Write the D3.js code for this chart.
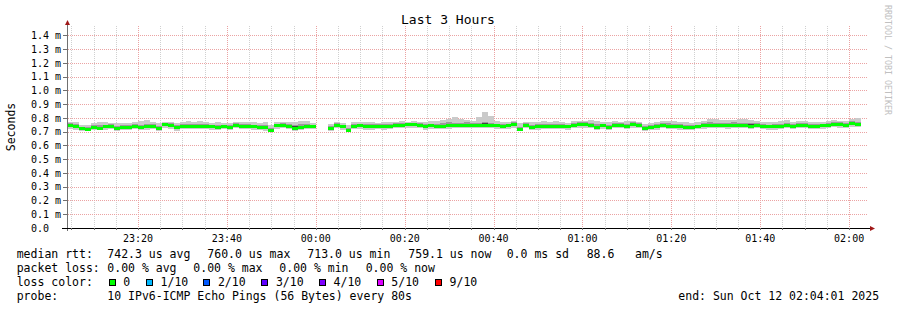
<!DOCTYPE html>
<html><head><meta charset="utf-8">
<script src="https://cdn.jsdelivr.net/npm/d3@7"></script>
<style>
html,body{margin:0;padding:0;background:#fff;}
svg{display:block;font-family:"DejaVu Sans Mono",monospace;}
</style></head><body>
<svg id="chart" width="897" height="310"></svg>
<script>
// ---------- data ----------
const title = "Last 3 Hours";
const yLabel = "Seconds";
const watermark = "RRDTOOL / TOBI OETIKER";
const startTime = "2025-10-11T23:04:01";
const endTime = "2025-10-12T02:04:01";
const stepSeconds = 80;
const yMaxMs = 1.468;
const yTicks = [0,0.1,0.2,0.3,0.4,0.5,0.6,0.7,0.8,0.9,1.0,1.1,1.2,1.3,1.4];

// median rtt per 80 s step (ms); null = no data
const median = [
.748,.743,.724,.717,.733,.729,.738,.740,.729,.736,
.736,.740,.731,.740,.743,.724,.755,.748,.731,.743,
.740,.740,.743,.740,.738,.736,.740,.733,.748,.743,
.740,.738,.733,.733,.714,.745,.748,.740,.729,.736,
.743,.740,null,null,.729,.750,.738,.713,.743,.745,
.738,.740,.740,.738,.743,.748,.748,.755,.755,.752,
.738,.745,.743,.743,.748,.750,.745,.750,.752,.752,
.752,.748,.745,.743,.745,.755,.721,.748,.736,.738,
.743,.743,.743,.743,.738,.750,.755,.755,.750,.736,
.748,.733,.748,.748,.743,.757,.750,.729,.733,.738,
.752,.743,.743,.743,.736,.733,.738,.745,.750,.748,
.748,.748,.748,.748,.750,.743,.748,.740,.738,.738,
.743,.752,.740,.750,.750,.740,.740,.745,.752,.757,
.755,.748,.760,.759];
// highest ping per step (ms)
const pingMax = [
.770,.768,.750,.745,.765,.768,.768,.765,.760,.765,
.762,.768,.778,.782,.772,.762,.772,.772,.765,.768,
.775,.770,.778,.768,.765,.768,.764,.762,.772,.772,
.768,.768,.762,.770,.745,.768,.770,.768,.768,.776,
.775,.765,null,null,.755,.768,.765,.748,.768,.768,
.772,.768,.765,.768,.770,.772,.776,.772,.776,.772,
.770,.776,.778,.785,.795,.805,.795,.786,.778,.805,
.842,.812,.778,.768,.772,.778,.760,.770,.768,.772,
.778,.770,.776,.768,.766,.778,.780,.780,.782,.778,
.768,.770,.776,.772,.778,.778,.772,.758,.765,.772,
.778,.776,.776,.768,.768,.762,.770,.780,.795,.790,
.786,.785,.786,.790,.790,.786,.778,.772,.768,.772,
.778,.786,.772,.778,.778,.770,.772,.772,.778,.782,
.780,.776,.795,.798];
// lowest ping per step (ms)
const pingMin = [
.718,.715,.704,.702,.710,.710,.715,.718,.708,.712,
.712,.718,.710,.715,.718,.705,.725,.722,.708,.720,
.718,.716,.720,.718,.715,.712,.716,.710,.725,.720,
.718,.714,.710,.708,.698,.720,.725,.718,.708,.712,
.720,.718,null,null,.708,.725,.715,.700,.718,.720,
.712,.715,.718,.712,.718,.725,.725,.730,.730,.728,
.715,.718,.718,.716,.720,.725,.725,.728,.728,.726,
.728,.725,.718,.716,.720,.730,.702,.725,.712,.715,
.720,.718,.718,.718,.715,.725,.730,.730,.725,.712,
.722,.710,.725,.725,.718,.730,.726,.708,.710,.714,
.728,.720,.716,.712,.710,.710,.716,.720,.725,.725,
.725,.722,.725,.724,.725,.720,.725,.716,.715,.714,
.718,.728,.716,.725,.726,.718,.716,.722,.728,.732,
.730,.725,.735,.732];
// upper inner ping per step (ms)
const pingHi = [
.760,.757,.737,.731,.747,.745,.751,.753,.743,.750,
.749,.753,.746,.757,.757,.739,.765,.761,.747,.755,
.755,.753,.757,.753,.751,.750,.752,.747,.760,.757,
.753,.751,.747,.750,.727,.757,.760,.755,.747,.753,
.757,.752,null,null,.741,.761,.751,.727,.755,.757,
.755,.755,.753,.753,.757,.760,.761,.765,.765,.763,
.753,.757,.757,.760,.770,.765,.763,.767,.763,.765,
.770,.763,.757,.755,.757,.767,.735,.760,.751,.753,
.757,.757,.757,.755,.751,.763,.767,.767,.765,.753,
.757,.749,.761,.761,.757,.769,.763,.741,.747,.753,
.765,.761,.759,.757,.751,.747,.751,.760,.767,.765,
.765,.763,.767,.765,.765,.763,.761,.755,.751,.753,
.757,.765,.755,.761,.761,.753,.755,.757,.765,.770,
.767,.761,.775,.773];
// lower inner ping per step (ms)
const pingLo = [
.733,.729,.713,.709,.721,.719,.726,.729,.717,.723,
.723,.728,.720,.728,.731,.714,.740,.735,.719,.731,
.728,.727,.731,.728,.726,.723,.727,.721,.735,.731,
.728,.725,.721,.721,.704,.733,.735,.728,.717,.723,
.730,.728,null,null,.717,.737,.725,.705,.730,.732,
.725,.727,.728,.725,.730,.735,.735,.741,.742,.739,
.725,.731,.730,.729,.733,.737,.733,.737,.739,.737,
.739,.735,.731,.729,.731,.741,.709,.735,.723,.725,
.730,.729,.729,.729,.725,.737,.741,.741,.737,.723,
.735,.721,.735,.735,.729,.743,.737,.717,.720,.725,
.739,.731,.729,.727,.722,.721,.725,.732,.737,.735,
.735,.733,.735,.734,.737,.730,.735,.727,.725,.725,
.730,.739,.727,.737,.737,.727,.727,.732,.739,.743,
.741,.735,.747,.745];

const rttLabel = "median rtt:";
const rttStats = ["742.3 us avg","760.0 us max","713.0 us min","759.1 us now","0.0 ms sd","88.6","am/s"];
const lossLabel = "packet loss:";
const lossStats = ["0.00 % avg","0.00 % max","0.00 % min","0.00 % now"];
const lossColorLabel = "loss color:";
const lossLabels = ["0","1/10","2/10","3/10","4/10","5/10","9/10"];
const lossColors = ["#00ff00","#00b8ff","#0059ff","#5e00ff","#7e00ff","#dd00ff","#ff0000"];
const probeLabel = "probe:";
const probeText = "10 IPv6-ICMP Echo Pings (56 Bytes) every 80s";
const endText = "end: Sun Oct 12 02:04:01 2025";

// ---------- layout ----------
const L = 67, R = 867, B = 228;
const svg = d3.select("#chart");
const t0 = new Date(startTime), t1 = new Date(endTime);
const x = d3.scaleTime().domain([t0, t1]).range([L, R]);
const y = d3.scaleLinear().domain([0, 1.4]).range([B, 35.35]);
const T = y(yMaxMs);

svg.append("rect").attr("width",897).attr("height",310).attr("fill","#fff");

// grid
const g = svg.append("g").attr("shape-rendering","crispEdges");
const minorTicks = d3.timeMinute.every(5).range(t0, t1);
const majorTicks = d3.timeMinute.every(20).range(t0, t1);
const isMajor = d => d.getMinutes() % 20 === 0;
g.selectAll(".vmin").data(minorTicks.filter(d=>!isMajor(d))).enter().append("line")
  .attr("x1",d=>Math.round(x(d))+0.5).attr("x2",d=>Math.round(x(d))+0.5)
  .attr("y1",T).attr("y2",B).attr("stroke","#d0d0d0").attr("stroke-dasharray","1,1");
g.selectAll(".vmaj").data(majorTicks).enter().append("line")
  .attr("x1",d=>Math.round(x(d))+0.5).attr("x2",d=>Math.round(x(d))+0.5)
  .attr("y1",T).attr("y2",B).attr("stroke","#eba3a3").attr("stroke-dasharray","1,1");
g.selectAll(".h").data(yTicks.slice(1)).enter().append("line")
  .attr("x1",L+1).attr("x2",R+1)
  .attr("y1",d=>Math.round(y(d))+0.5).attr("y2",d=>Math.round(y(d))+0.5)
  .attr("stroke","#eba3a3").attr("stroke-dasharray","1,1");

// step data
const steps = median.map((v,i)=>({i, a:new Date(+t0 + i*stepSeconds*1000), b:new Date(+t0 + (i+1)*stepSeconds*1000)}))
  .filter(d => median[d.i] != null);
const dg = svg.append("g").attr("shape-rendering","crispEdges");
function band(lo, hi, color){
  dg.append("g").selectAll("rect").data(steps).enter().append("rect")
    .attr("x", d=>Math.round(x(d.a))).attr("width", d=>Math.round(x(d.b))-Math.round(x(d.a)))
    .attr("y", d=>Math.round(y(hi(d.i))))
    .attr("height", d=>Math.max(1, Math.round(y(lo(d.i)))-Math.round(y(hi(d.i)))))
    .attr("fill", color);
}
band(i=>pingMin[i], i=>pingMax[i], "#cacaca");
band(i=>pingLo[i], i=>pingHi[i], "#9a9a9a");
band(i=>(pingLo[i]+median[i])/2, i=>(pingHi[i]+median[i])/2, "#444444");
// median drawn as a thin band per step, coloured by loss
dg.append("g").selectAll("rect").data(steps).enter().append("rect")
  .attr("x", d=>Math.round(x(d.a))).attr("width", d=>Math.round(x(d.b))-Math.round(x(d.a)))
  .attr("y", d=>Math.round(y(median[d.i]))-1.5).attr("height", 3)
  .attr("fill", lossColors[0]);

// axes
const ax = svg.append("g").attr("shape-rendering","crispEdges");
ax.append("line").attr("x1",L+0.5).attr("x2",L+0.5).attr("y1",B+3).attr("y2",T-2).attr("stroke","#707070");
ax.selectAll(".yt").data(yTicks).enter().append("line")
  .attr("x1",L-4).attr("x2",L).attr("y1",d=>Math.round(y(d))+0.5).attr("y2",d=>Math.round(y(d))+0.5)
  .attr("stroke","#707070");
ax.append("line").attr("x1",L-5).attr("x2",R+4).attr("y1",B+0.5).attr("y2",B+0.5).attr("stroke","#000");
ax.selectAll(".xt").data(minorTicks).enter().append("line")
  .attr("x1",d=>Math.round(x(d))+0.5).attr("x2",d=>Math.round(x(d))+0.5)
  .attr("y1",B).attr("y2",B+2).attr("stroke","#707070");
svg.append("path").attr("fill","#a01818")
  .attr("d",`M${L+0.5},${T-6} L${L+3},${T-1} L${L-2},${T-1} Z`);
svg.append("path").attr("fill","#a01818")
  .attr("d",`M${R+8},${B+0.5} L${R+3},${B-2} L${R+3},${B+3} Z`);

// tick labels
const yl = svg.append("g").attr("font-size","10px").attr("fill","#000");
yl.selectAll(".n").data(yTicks).enter().append("text")
  .attr("x",49).attr("y",d=>y(d)+3.7).attr("text-anchor","end").text(d=>d3.format(".1f")(d));
yl.selectAll(".u").data(yTicks.slice(1)).enter().append("text")
  .attr("x",55).attr("y",d=>y(d)+3.7).text("m");
const fmt = d3.timeFormat("%H:%M");
svg.append("g").attr("font-size","10px").selectAll("text").data(majorTicks).enter().append("text")
  .attr("x",d=>x(d)).attr("y",241.5).attr("text-anchor","middle").text(d=>fmt(d));

// titles
svg.append("text").attr("x",448).attr("y",24).attr("text-anchor","middle")
  .attr("font-size","13px").text(title);
svg.append("text").attr("transform","translate(15,127) rotate(-90)").attr("text-anchor","middle")
  .attr("font-size","11.5px").text(yLabel);
svg.append("text").attr("transform","translate(885,5) rotate(90)")
  .attr("font-size","8.3px").attr("fill","#c0c0c0").text(watermark);

// legend
const lg = svg.append("g").attr("font-size","11.5px").attr("fill","#000");
const line1 = [16.7,107.3,207.3,307.3,408.3,506.7,586.7,635];
[rttLabel].concat(rttStats).forEach((s,i)=>lg.append("text").attr("x",line1[i]).attr("y",258.3).text(s));
const line2 = [16.7,107.3,193.3,279.3,365.7];
[lossLabel].concat(lossStats).forEach((s,i)=>lg.append("text").attr("x",line2[i]).attr("y",272.3).text(s));
lg.append("text").attr("x",16.7).attr("y",286.2).text(lossColorLabel);
const boxX = [108.7,146,203.3,261.3,319,376.7,435];
lossLabels.forEach((s,i)=>{
  lg.append("rect").attr("x",boxX[i]+0.5).attr("y",279.5).attr("width",6).attr("height",6)
    .attr("fill",lossColors[i]).attr("stroke","#000").attr("stroke-width",1).attr("shape-rendering","crispEdges");
  lg.append("text").attr("x",boxX[i]+14.6).attr("y",286.2).text(s);
});
lg.append("text").attr("x",16.7).attr("y",300.2).text(probeLabel);
lg.append("text").attr("x",107.3).attr("y",300.2).text(probeText);
lg.append("text").attr("x",678.3).attr("y",300.2).text(endText);
</script>
</body></html>
